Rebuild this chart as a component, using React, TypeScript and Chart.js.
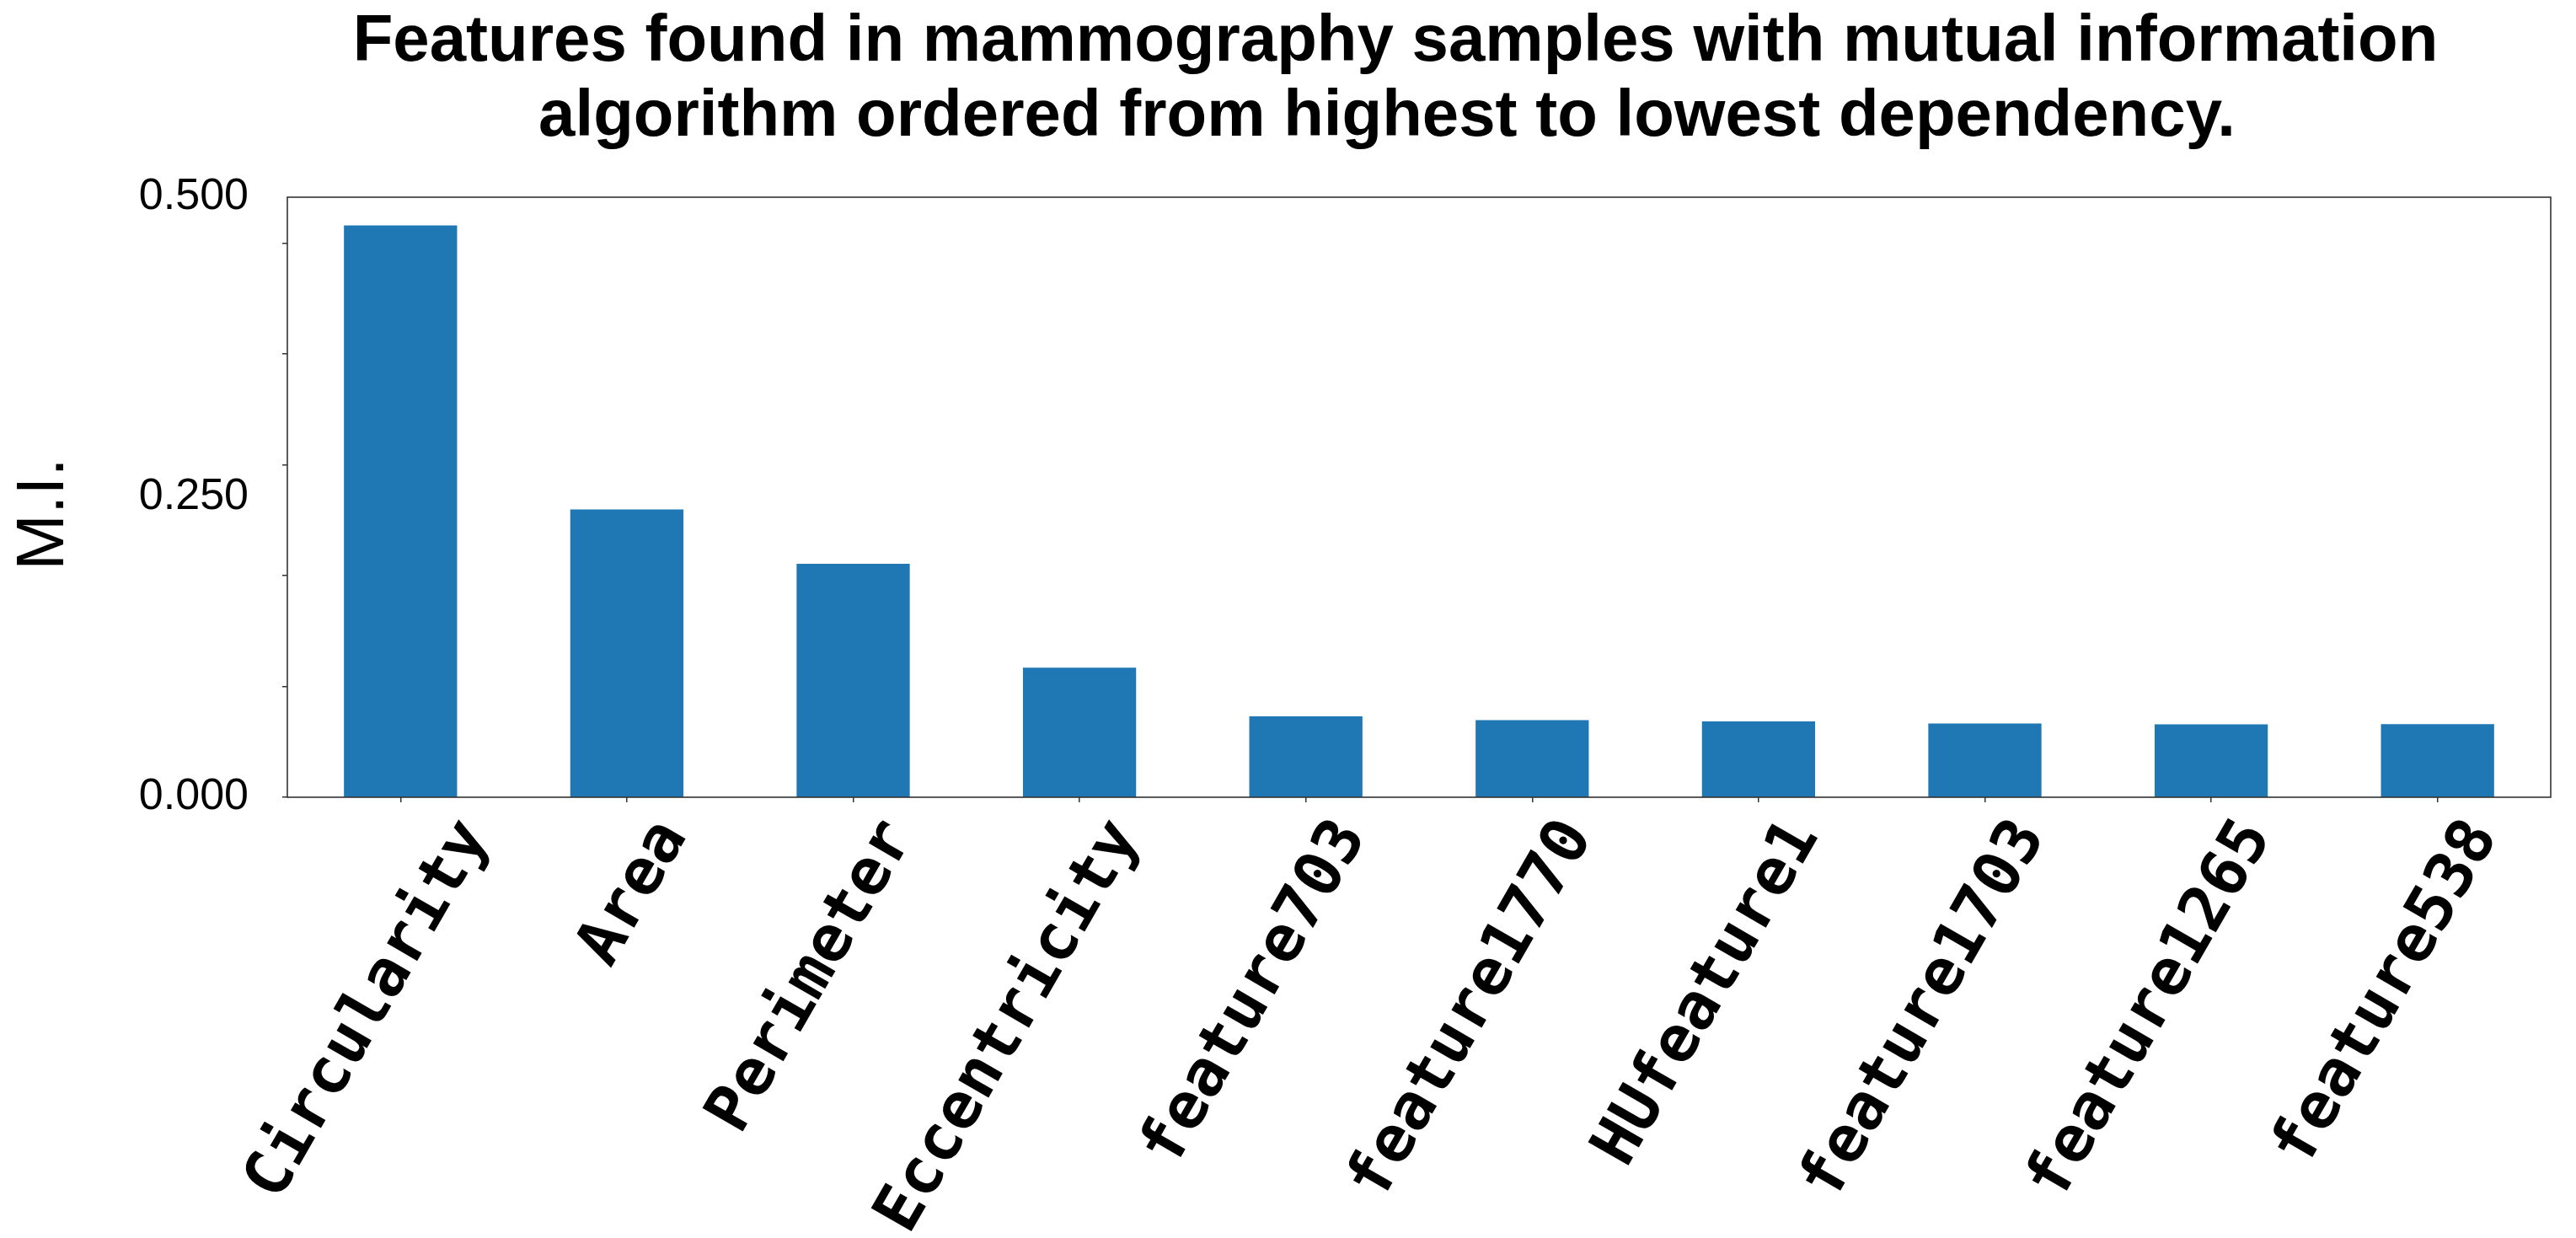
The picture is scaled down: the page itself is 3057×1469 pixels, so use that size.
import React, { useEffect, useRef } from "react";
import { Chart, registerables } from "chart.js";

Chart.register(...registerables);

// ---- data ----
const categories = [
  "Circularity",
  "Area",
  "Perimeter",
  "Eccentricity",
  "feature703",
  "feature1770",
  "HUfeature1",
  "feature1703",
  "feature1265",
  "feature538",
];
const miValues = [0.4765, 0.2398, 0.1945, 0.108, 0.0675, 0.0643, 0.0632, 0.0614, 0.0607, 0.0609];
const yTickLabels = [0, 0.25, 0.5];
const titleLines = [
  "Features found in mammography samples with mutual information",
  "algorithm ordered from highest to lowest dependency.",
];
const yAxisTitle = "M.I.";

// ---- style ----
const W = 3057;
const H = 1469;
const SPINE = "#333333";
const BAR = "#1f77b4";
const XFONT = 76;
const TITLE_FONT = 78;
// small horizontal nudge (px) seen on the first label in the original
const LABEL_NUDGE: Record<number, number> = { 0: 34 };

const decoPlugin = {
  id: "deco",
  afterDatasetsDraw(chart: any) {
    const { ctx, chartArea: a, scales } = chart;
    ctx.save();
    // frame
    ctx.strokeStyle = SPINE;
    ctx.lineWidth = 1.6;
    ctx.strokeRect(a.left, a.top, a.right - a.left, a.bottom - a.top);

    // x tick labels rotated 60 degrees, right end anchored near the tick
    const xs = scales.x;
    const th = Math.PI / 3;
    ctx.fillStyle = "#000";
    ctx.font = `bold ${XFONT}px "DejaVu Sans Mono"`;
    categories.forEach((lab, i) => {
      const px = xs.getPixelForTick(i) + (LABEL_NUDGE[i] || 0);
      ctx.save();
      ctx.translate(px + 72, a.bottom + 45);
      ctx.rotate(-th);
      ctx.textAlign = "right";
      ctx.textBaseline = "alphabetic";
      ctx.fillText(lab, 0, 0);
      ctx.restore();
    });

    ctx.restore();
  },
  afterDraw(chart: any) {
    const { ctx } = chart;
    ctx.save();
    ctx.fillStyle = "#000";
    ctx.textAlign = "center";
    ctx.textBaseline = "alphabetic";
    ctx.font = `bold ${TITLE_FONT}px "Liberation Sans"`;
    ctx.fillText(titleLines[0], 1656, 72);
    ctx.fillText(titleLines[1], 1646, 161);

    // y axis title
    ctx.font = `80px "Liberation Sans"`;
    ctx.translate(75, 610);
    ctx.rotate(-Math.PI / 2);
    ctx.textAlign = "center";
    ctx.fillText(yAxisTitle, 0, 0);
    ctx.restore();
  },
};

export default function App() {
  const ref = useRef<HTMLCanvasElement | null>(null);

  useEffect(() => {
    if (!ref.current) return;
    const chart = new Chart(ref.current, {
      type: "bar",
      data: {
        labels: categories,
        datasets: [
          {
            data: miValues,
            backgroundColor: BAR,
            borderWidth: 0,
            barPercentage: 0.5,
            categoryPercentage: 1,
          },
        ],
      },
      options: {
        responsive: false,
        maintainAspectRatio: false,
        animation: false,
        devicePixelRatio: 1,
        layout: { padding: { top: 234, right: 30, left: 0, bottom: 0 } },
        plugins: {
          legend: { display: false },
          tooltip: { enabled: false },
          title: { display: false },
        },
        scales: {
          x: {
            type: "category",
            offset: true,
            grid: {
              display: true,
              drawOnChartArea: false,
              drawTicks: true,
              tickLength: 6,
              offset: false,
              color: SPINE,
              lineWidth: 1.5,
            },
            border: { display: false },
            ticks: { display: false },
            afterFit: (s: any) => {
              s.height = 523;
            },
          },
          y: {
            type: "linear",
            position: "left",
            min: 0,
            max: 0.5,
            weight: 1,
            afterBuildTicks: (s: any) => {
              s.ticks = yTickLabels.map((v) => ({ value: v }));
            },
            ticks: {
              color: "#000",
              padding: 46,
              font: { family: "Liberation Sans", size: 52 },
              callback: (v: any) => Number(v).toFixed(3),
            },
            grid: { display: false, drawTicks: false },
            border: { display: false },
            afterFit: (s: any) => {
              s.width = 341;
            },
          },
          yMinor: {
            type: "linear",
            position: "left",
            min: 0,
            max: 0.5414,
            weight: 0,
            ticks: { display: false, stepSize: 0.1, includeBounds: false },
            grid: {
              display: true,
              drawOnChartArea: false,
              drawTicks: true,
              tickLength: 6,
              color: SPINE,
              lineWidth: 1.5,
            },
            border: { display: false },
            afterFit: (s: any) => {
              s.width = 0;
            },
          },
        },
      },
      plugins: [decoPlugin],
    });
    return () => chart.destroy();
  }, []);

  return (
    <div style={{ position: "fixed", left: 0, top: 0, width: W, height: H, background: "#fff" }}>
      <canvas ref={ref} width={W} height={H} style={{ display: "block", width: W, height: H }} />
    </div>
  );
}
